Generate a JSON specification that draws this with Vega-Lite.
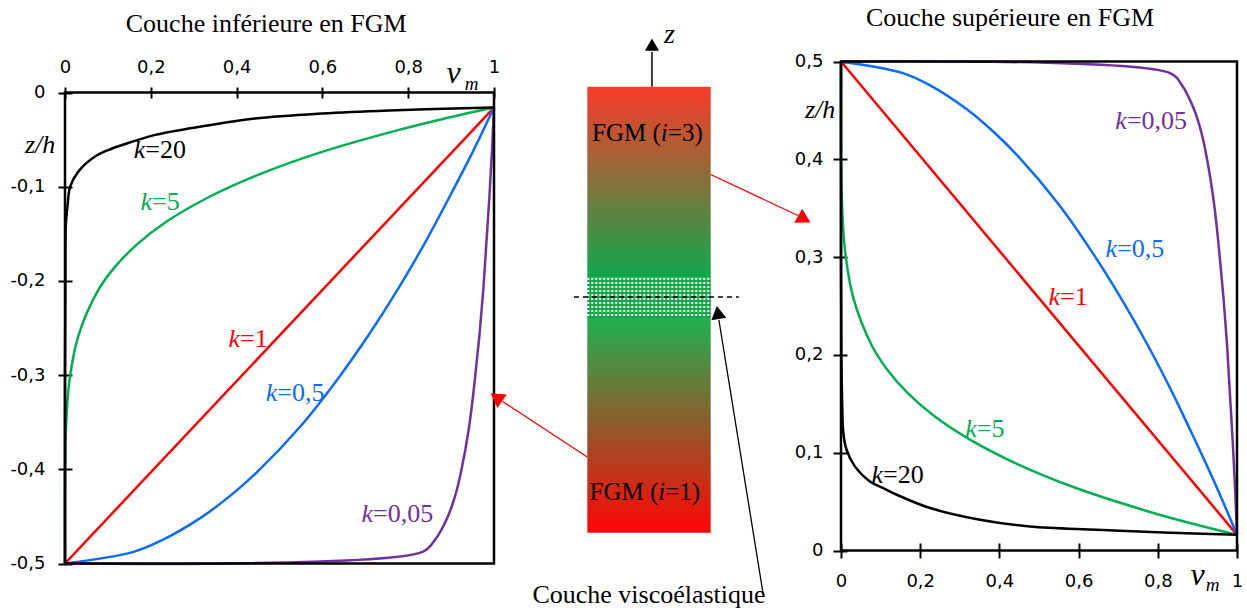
{
"$schema":"https://vega.github.io/schema/vega-lite/v6.json",
"width":1247,"height":612,"autosize":{"type":"none"},"padding":0,"background":"white",
"config":{"view":{"stroke":null},"axis":{"grid":false,"domain":false,"labelFont":"DejaVu Sans","labelFontSize":18,"labelColor":"black","tickColor":"black","tickWidth":2,"labelFlush":false,"labelOverlap":false,"labelBound":false},"text":{"font":"Liberation Serif","color":"black"}},
"datasets":{
"left":[
{"k":"1","vm":0,"z":-0.5},{"k":"1","vm":1,"z":-0.016},
{"k":"0,5","vm":0,"z":-0.5},{"k":"0,5","vm":0.158,"z":-0.4879},{"k":"0,5","vm":0.224,"z":-0.4758},{"k":"0,5","vm":0.316,"z":-0.4516},{"k":"0,5","vm":0.387,"z":-0.4274},{"k":"0,5","vm":0.447,"z":-0.4032},{"k":"0,5","vm":0.548,"z":-0.3548},{"k":"0,5","vm":0.632,"z":-0.3064},{"k":"0,5","vm":0.707,"z":-0.258},{"k":"0,5","vm":0.775,"z":-0.2096},{"k":"0,5","vm":0.837,"z":-0.1612},{"k":"0,5","vm":0.894,"z":-0.1128},{"k":"0,5","vm":0.949,"z":-0.0644},{"k":"0,5","vm":1,"z":-0.016},
{"k":"0,05","vm":0,"z":-0.5},{"k":"0,05","vm":0.832,"z":-0.4879},{"k":"0,05","vm":0.861,"z":-0.4758},{"k":"0,05","vm":0.891,"z":-0.4516},{"k":"0,05","vm":0.910,"z":-0.4274},{"k":"0,05","vm":0.923,"z":-0.4032},{"k":"0,05","vm":0.942,"z":-0.3548},{"k":"0,05","vm":0.955,"z":-0.3064},{"k":"0,05","vm":0.966,"z":-0.258},{"k":"0,05","vm":0.975,"z":-0.2096},{"k":"0,05","vm":0.982,"z":-0.1612},{"k":"0,05","vm":0.989,"z":-0.1128},{"k":"0,05","vm":0.995,"z":-0.0644},{"k":"0,05","vm":1,"z":-0.016},
{"k":"5","vm":0,"z":-0.5},{"k":"5","vm":0.0003,"z":-0.4032},{"k":"5","vm":0.0024,"z":-0.3548},{"k":"5","vm":0.0102,"z":-0.3064},{"k":"5","vm":0.0313,"z":-0.258},{"k":"5","vm":0.0778,"z":-0.2096},{"k":"5","vm":0.116,"z":-0.1854},{"k":"5","vm":0.168,"z":-0.1612},{"k":"5","vm":0.237,"z":-0.137},{"k":"5","vm":0.328,"z":-0.1128},{"k":"5","vm":0.444,"z":-0.0886},{"k":"5","vm":0.590,"z":-0.0644},{"k":"5","vm":0.774,"z":-0.0402},{"k":"5","vm":0.881,"z":-0.0281},{"k":"5","vm":1,"z":-0.016},
{"k":"20","vm":0,"z":-0.5},{"k":"20","vm":0,"z":-0.3},{"k":"20","vm":0.001,"z":-0.2},{"k":"20","vm":0.002,"z":-0.14},{"k":"20","vm":0.006,"z":-0.12},{"k":"20","vm":0.012,"z":-0.1},{"k":"20","vm":0.031,"z":-0.084},{"k":"20","vm":0.07,"z":-0.068},{"k":"20","vm":0.107,"z":-0.06},{"k":"20","vm":0.132,"z":-0.056},{"k":"20","vm":0.21,"z":-0.045},{"k":"20","vm":0.327,"z":-0.0354},{"k":"20","vm":0.443,"z":-0.0276},{"k":"20","vm":0.599,"z":-0.0223},{"k":"20","vm":0.754,"z":-0.0191},{"k":"20","vm":1,"z":-0.016}
],
"right":[
{"k":"1","vm":0,"z":0.5},{"k":"1","vm":1,"z":0.016},
{"k":"0,5","vm":0,"z":0.5},{"k":"0,5","vm":0.158,"z":0.4879},{"k":"0,5","vm":0.224,"z":0.4758},{"k":"0,5","vm":0.316,"z":0.4516},{"k":"0,5","vm":0.387,"z":0.4274},{"k":"0,5","vm":0.447,"z":0.4032},{"k":"0,5","vm":0.548,"z":0.3548},{"k":"0,5","vm":0.632,"z":0.3064},{"k":"0,5","vm":0.707,"z":0.258},{"k":"0,5","vm":0.775,"z":0.2096},{"k":"0,5","vm":0.837,"z":0.1612},{"k":"0,5","vm":0.894,"z":0.1128},{"k":"0,5","vm":0.949,"z":0.0644},{"k":"0,5","vm":1,"z":0.016},
{"k":"0,05","vm":0,"z":0.5},{"k":"0,05","vm":0.832,"z":0.4879},{"k":"0,05","vm":0.861,"z":0.4758},{"k":"0,05","vm":0.891,"z":0.4516},{"k":"0,05","vm":0.910,"z":0.4274},{"k":"0,05","vm":0.923,"z":0.4032},{"k":"0,05","vm":0.942,"z":0.3548},{"k":"0,05","vm":0.955,"z":0.3064},{"k":"0,05","vm":0.966,"z":0.258},{"k":"0,05","vm":0.975,"z":0.2096},{"k":"0,05","vm":0.982,"z":0.1612},{"k":"0,05","vm":0.989,"z":0.1128},{"k":"0,05","vm":0.995,"z":0.0644},{"k":"0,05","vm":1,"z":0.016},
{"k":"5","vm":0,"z":0.5},{"k":"5","vm":0.0003,"z":0.4032},{"k":"5","vm":0.0024,"z":0.3548},{"k":"5","vm":0.0102,"z":0.3064},{"k":"5","vm":0.0313,"z":0.258},{"k":"5","vm":0.0778,"z":0.2096},{"k":"5","vm":0.116,"z":0.1854},{"k":"5","vm":0.168,"z":0.1612},{"k":"5","vm":0.237,"z":0.137},{"k":"5","vm":0.328,"z":0.1128},{"k":"5","vm":0.444,"z":0.0886},{"k":"5","vm":0.590,"z":0.0644},{"k":"5","vm":0.774,"z":0.0402},{"k":"5","vm":0.881,"z":0.0281},{"k":"5","vm":1,"z":0.016},
{"k":"20","vm":0,"z":0.5},{"k":"20","vm":0,"z":0.3},{"k":"20","vm":0.001,"z":0.2},{"k":"20","vm":0.003,"z":0.15},{"k":"20","vm":0.006,"z":0.12},{"k":"20","vm":0.014,"z":0.103},{"k":"20","vm":0.035,"z":0.086},{"k":"20","vm":0.073,"z":0.0706},{"k":"20","vm":0.107,"z":0.0638},{"k":"20","vm":0.141,"z":0.057},{"k":"20","vm":0.225,"z":0.0434},{"k":"20","vm":0.351,"z":0.0314},{"k":"20","vm":0.477,"z":0.0245},{"k":"20","vm":0.646,"z":0.0212},{"k":"20","vm":0.814,"z":0.0184},{"k":"20","vm":1,"z":0.016}
],
"labelsL":[
{"k":"20","rest":"=20","x":0.187,"y":-0.0697},
{"k":"5","rest":"=5","x":0.203,"y":-0.125},
{"k":"1","rest":"=1","x":0.408,"y":-0.270},
{"k":"0,5","rest":"=0,5","x":0.495,"y":-0.328},
{"k":"0,05","rest":"=0,05","x":0.718,"y":-0.4557}
],
"labelsR":[
{"k":"0,05","rest":"=0,05","x":0.722,"y":0.431},
{"k":"0,5","rest":"=0,5","x":0.697,"y":0.300},
{"k":"1","rest":"=1","x":0.553,"y":0.251},
{"k":"5","rest":"=5","x":0.343,"y":0.116},
{"k":"20","rest":"=20","x":0.106,"y":0.069}
]
},
"resolve":{"scale":{"x":"independent","y":"independent"}},
"layer":[
{"layer":[
 {"data":{"name":"left"},"mark":{"type":"line","strokeWidth":2.5,"interpolate":"catmull-rom"},
  "encoding":{
   "x":{"field":"vm","type":"quantitative","title":null,"scale":{"domain":[0,1],"range":[65,494],"nice":false,"zero":false},
    "axis":{"orient":"top","offset":-98,"values":[0,0.2,0.4,0.6,0.8,1],"tickSize":11,"labelPadding":15,"labelBaseline":"alphabetic","labelFont":"DejaVu Sans","labelFontSize":18,"labelExpr":"replace(replace(format(datum.value,'~g'),'.',','),'\u2212','-')"}},
   "y":{"field":"z","type":"quantitative","title":null,"scale":{"domain":[-0.5,0],"range":[563.5,92.5],"nice":false,"zero":false},
    "axis":{"orient":"left","offset":-72,"values":[-0.5,-0.4,-0.3,-0.2,-0.1,0],"tickSize":14,"labelPadding":13,"labelFont":"DejaVu Sans","labelFontSize":18,"labelExpr":"replace(replace(format(datum.value,'~g'),'.',','),'\u2212','-')"}},
   "color":{"field":"k","type":"nominal","scale":{"domain":["20","5","1","0,5","0,05"],"range":["#000000","#00b050","#ff0000","#0a6bff","#7030a0"]},"legend":null},
   "order":{"field":"z","type":"quantitative"}}},
 {"data":{"values":[{}]},"mark":{"type":"rect","fillOpacity":0,"stroke":"black","strokeWidth":2.5},
  "encoding":{"x":{"datum":0,"type":"quantitative","title":null},"x2":{"datum":1},"y":{"datum":-0.5,"type":"quantitative","title":null},"y2":{"datum":0}}},
 {"data":{"name":"labelsL"},"mark":{"type":"text","fontSize":26,"fontStyle":"italic","align":"right","baseline":"alphabetic"},
  "encoding":{"x":{"field":"x","type":"quantitative","title":null},"y":{"field":"y","type":"quantitative","title":null},"text":{"value":"k"},
   "color":{"field":"k","type":"nominal","scale":{"domain":["20","5","1","0,5","0,05"],"range":["#000000","#00b050","#ff0000","#0a6bff","#7030a0"]},"legend":null}}},
 {"data":{"name":"labelsL"},"mark":{"type":"text","fontSize":26,"align":"left","baseline":"alphabetic"},
  "encoding":{"x":{"field":"x","type":"quantitative","title":null},"y":{"field":"y","type":"quantitative","title":null},"text":{"field":"rest"},
   "color":{"field":"k","type":"nominal","scale":{"domain":["20","5","1","0,5","0,05"],"range":["#000000","#00b050","#ff0000","#0a6bff","#7030a0"]},"legend":null}}},
 {"data":{"values":[{}]},"mark":{"type":"text","fontSize":26,"align":"center","baseline":"alphabetic"},
  "encoding":{"x":{"datum":0.469,"type":"quantitative","title":null},"y":{"datum":0.0645,"type":"quantitative","title":null},"text":{"value":"Couche inférieure en FGM"}}},
 {"data":{"values":[{}]},"mark":{"type":"text","fontSize":26,"fontStyle":"italic","align":"left","baseline":"alphabetic"},
  "encoding":{"x":{"datum":-0.0933,"type":"quantitative","title":null},"y":{"datum":-0.0642,"type":"quantitative","title":null},"text":{"value":"z/h"}}},
 {"data":{"values":[{}]},"mark":{"type":"text","fontSize":32,"fontStyle":"italic","align":"left","baseline":"alphabetic"},
  "encoding":{"x":{"datum":0.889,"type":"quantitative","title":null},"y":{"datum":0.0101,"type":"quantitative","title":null},"text":{"value":"v"}}},
 {"data":{"values":[{}]},"mark":{"type":"text","fontSize":19,"fontStyle":"italic","align":"left","baseline":"alphabetic"},
  "encoding":{"x":{"datum":0.932,"type":"quantitative","title":null},"y":{"datum":0.0027,"type":"quantitative","title":null},"text":{"value":"m"}}}
]},
{"layer":[
 {"data":{"values":[{}]},"mark":{"type":"rect","fill":{"gradient":"linear","x1":0,"y1":0,"x2":0,"y2":1,"stops":[{"offset":0,"color":"#fa3a2a"},{"offset":1,"color":"#10a84c"}]}},
  "encoding":{"x":{"datum":0,"type":"quantitative","scale":{"domain":[0,1],"range":[587.3,710.7],"nice":false,"zero":false},"axis":null},"x2":{"datum":1},
   "y":{"datum":0.0726,"type":"quantitative","scale":{"domain":[-0.5,0.5],"range":[532.7,86.7],"nice":false,"zero":false},"axis":null},"y2":{"datum":0.5}}},
 {"data":{"values":[{}]},"mark":{"type":"rect","fill":{"gradient":"linear","x1":0,"y1":0,"x2":0,"y2":1,"stops":[{"offset":0,"color":"#20b050"},{"offset":1,"color":"#ff0505"}]}},
  "encoding":{"x":{"datum":0,"type":"quantitative","axis":null},"x2":{"datum":1},"y":{"datum":-0.5,"type":"quantitative","axis":null},"y2":{"datum":-0.0186}}},
 {"data":{"values":[{}]},"mark":{"type":"rect","fill":"#14a84a"},
  "encoding":{"x":{"datum":0,"type":"quantitative","axis":null},"x2":{"datum":1},"y":{"datum":-0.0186,"type":"quantitative","axis":null},"y2":{"datum":0.0726}}},
 {"data":{"values":[{}]},"mark":{"type":"rule","stroke":"white","strokeWidth":40.7,"strokeDash":[2,2]},
  "encoding":{"x":{"datum":0,"type":"quantitative","axis":null},"x2":{"datum":1},"y":{"datum":0.027,"type":"quantitative","axis":null}}},
 {"data":{"values":[{}]},"mark":{"type":"rule","stroke":"#14a84a","strokeWidth":123.4,"strokeDash":[2,2]},
  "encoding":{"x":{"datum":0.5,"type":"quantitative","axis":null},"y":{"datum":-0.0186,"type":"quantitative","axis":null},"y2":{"datum":0.0726}}},
 {"data":{"values":[{}]},"mark":{"type":"rule","stroke":"black","strokeWidth":1.3,"strokeDash":[5,4]},
  "encoding":{"x":{"datum":-0.108,"type":"quantitative","axis":null},"x2":{"datum":1.228},"y":{"datum":0.0285,"type":"quantitative","axis":null}}},
 {"data":{"values":[{}]},"mark":{"type":"rule","stroke":"black","strokeWidth":1.5},
  "encoding":{"x":{"datum":0.524,"type":"quantitative","axis":null},"y":{"datum":0.5,"type":"quantitative","axis":null},"y2":{"datum":0.5778}}},
 {"data":{"values":[{}]},"mark":{"type":"point","shape":"triangle-up","filled":true,"size":200,"angle":0,"color":"black","opacity":1,"strokeWidth":0},
  "encoding":{"x":{"datum":0.524,"type":"quantitative","axis":null},"y":{"datum":0.5946,"type":"quantitative","axis":null}}},
 {"data":{"values":[{}]},"mark":{"type":"text","fontSize":28,"fontStyle":"italic","align":"left","baseline":"alphabetic"},
  "encoding":{"x":{"datum":0.622,"type":"quantitative","axis":null},"y":{"datum":0.5987,"type":"quantitative","axis":null},"text":{"value":"z"}}},
 {"data":{"values":[{}]},"mark":{"type":"text","fontSize":25,"align":"right","baseline":"alphabetic"},
  "encoding":{"x":{"datum":0.5956,"type":"quantitative","axis":null},"y":{"datum":0.3789,"type":"quantitative","axis":null},"text":{"value":"FGM ("}}},
 {"data":{"values":[{}]},"mark":{"type":"text","fontSize":25,"fontStyle":"italic","align":"left","baseline":"alphabetic"},
  "encoding":{"x":{"datum":0.5956,"type":"quantitative","axis":null},"y":{"datum":0.3789,"type":"quantitative","axis":null},"text":{"value":"i"}}},
 {"data":{"values":[{}]},"mark":{"type":"text","fontSize":25,"align":"left","baseline":"alphabetic","dx":7},
  "encoding":{"x":{"datum":0.5956,"type":"quantitative","axis":null},"y":{"datum":0.3789,"type":"quantitative","axis":null},"text":{"value":"=3)"}}},
 {"data":{"values":[{}]},"mark":{"type":"text","fontSize":25,"align":"right","baseline":"alphabetic"},
  "encoding":{"x":{"datum":0.575,"type":"quantitative","axis":null},"y":{"datum":-0.4267,"type":"quantitative","axis":null},"text":{"value":"FGM ("}}},
 {"data":{"values":[{}]},"mark":{"type":"text","fontSize":25,"fontStyle":"italic","align":"left","baseline":"alphabetic"},
  "encoding":{"x":{"datum":0.575,"type":"quantitative","axis":null},"y":{"datum":-0.4267,"type":"quantitative","axis":null},"text":{"value":"i"}}},
 {"data":{"values":[{}]},"mark":{"type":"text","fontSize":25,"align":"left","baseline":"alphabetic","dx":7},
  "encoding":{"x":{"datum":0.575,"type":"quantitative","axis":null},"y":{"datum":-0.4267,"type":"quantitative","axis":null},"text":{"value":"=1)"}}},
 {"data":{"values":[{}]},"mark":{"type":"text","fontSize":26,"align":"center","baseline":"alphabetic"},
  "encoding":{"x":{"datum":0.5,"type":"quantitative","axis":null},"y":{"datum":-0.6576,"type":"quantitative","axis":null},"text":{"value":"Couche viscoélastique"}}},
 {"data":{"values":[{}]},"mark":{"type":"rule","stroke":"#ff0000","strokeWidth":1.3},
  "encoding":{"x":{"datum":1.0,"type":"quantitative","axis":null},"x2":{"datum":1.7075},"y":{"datum":0.3031,"type":"quantitative","axis":null},"y2":{"datum":0.2112}}},
 {"data":{"values":[{}]},"mark":{"type":"point","shape":"triangle-up","filled":true,"size":260,"angle":119.4,"color":"#ff0000","opacity":1,"strokeWidth":0},
  "encoding":{"x":{"datum":1.7585,"type":"quantitative","axis":null},"y":{"datum":0.2031,"type":"quantitative","axis":null}}},
 {"data":{"values":[{}]},"mark":{"type":"rule","stroke":"#ff0000","strokeWidth":1.3},
  "encoding":{"x":{"datum":0,"type":"quantitative","axis":null},"x2":{"datum":-0.687},"y":{"datum":-0.3303,"type":"quantitative","axis":null},"y2":{"datum":-0.2058}}},
 {"data":{"values":[{}]},"mark":{"type":"point","shape":"triangle-up","filled":true,"size":260,"angle":304.2,"color":"#ff0000","opacity":1,"strokeWidth":0},
  "encoding":{"x":{"datum":-0.7374,"type":"quantitative","axis":null},"y":{"datum":-0.1964,"type":"quantitative","axis":null}}},
 {"data":{"values":[{}]},"mark":{"type":"rule","stroke":"black","strokeWidth":1.3},
  "encoding":{"x":{"datum":1.4238,"type":"quantitative","axis":null},"x2":{"datum":1.0665},"y":{"datum":-0.6352,"type":"quantitative","axis":null},"y2":{"datum":-0.0231}}},
 {"data":{"values":[{}]},"mark":{"type":"point","shape":"triangle-up","filled":true,"size":230,"angle":350.9,"color":"black","opacity":1,"strokeWidth":0},
  "encoding":{"x":{"datum":1.0575,"type":"quantitative","axis":null},"y":{"datum":-0.0063,"type":"quantitative","axis":null}}}
]},
{"layer":[
 {"data":{"name":"right"},"mark":{"type":"line","strokeWidth":2.5,"interpolate":"catmull-rom"},
  "encoding":{
   "x":{"field":"vm","type":"quantitative","title":null,"scale":{"domain":[0,1],"range":[841,1237],"nice":false,"zero":false},
    "axis":{"orient":"bottom","offset":-69,"values":[0,0.2,0.4,0.6,0.8,1],"tickSize":15,"labelPadding":28,"labelBaseline":"alphabetic","labelFont":"DejaVu Sans","labelFontSize":18,"labelExpr":"replace(replace(format(datum.value,'~g'),'.',','),'\u2212','-')"}},
   "y":{"field":"z","type":"quantitative","title":null,"scale":{"domain":[0,0.5],"range":[550.5,61.5],"nice":false,"zero":false},
    "axis":{"orient":"left","offset":-847,"values":[0,0.1,0.2,0.3,0.4,0.5],"tickSize":14,"labelPadding":10,"labelFont":"DejaVu Sans","labelFontSize":18,"labelExpr":"replace(replace(format(datum.value,'~g'),'.',','),'\u2212','-')"}},
   "color":{"field":"k","type":"nominal","scale":{"domain":["20","5","1","0,5","0,05"],"range":["#000000","#00b050","#ff0000","#0a6bff","#7030a0"]},"legend":null},
   "order":{"field":"z","type":"quantitative"}}},
 {"data":{"values":[{}]},"mark":{"type":"rect","fillOpacity":0,"stroke":"black","strokeWidth":2.5},
  "encoding":{"x":{"datum":0,"type":"quantitative","title":null},"x2":{"datum":1},"y":{"datum":0,"type":"quantitative","title":null},"y2":{"datum":0.5}}},
 {"data":{"name":"labelsR"},"mark":{"type":"text","fontSize":26,"fontStyle":"italic","align":"right","baseline":"alphabetic"},
  "encoding":{"x":{"field":"x","type":"quantitative","title":null},"y":{"field":"y","type":"quantitative","title":null},"text":{"value":"k"},
   "color":{"field":"k","type":"nominal","scale":{"domain":["20","5","1","0,5","0,05"],"range":["#000000","#00b050","#ff0000","#0a6bff","#7030a0"]},"legend":null}}},
 {"data":{"name":"labelsR"},"mark":{"type":"text","fontSize":26,"align":"left","baseline":"alphabetic"},
  "encoding":{"x":{"field":"x","type":"quantitative","title":null},"y":{"field":"y","type":"quantitative","title":null},"text":{"field":"rest"},
   "color":{"field":"k","type":"nominal","scale":{"domain":["20","5","1","0,5","0,05"],"range":["#000000","#00b050","#ff0000","#0a6bff","#7030a0"]},"legend":null}}},
 {"data":{"values":[{}]},"mark":{"type":"text","fontSize":26,"align":"center","baseline":"alphabetic"},
  "encoding":{"x":{"datum":0.4268,"type":"quantitative","title":null},"y":{"datum":0.5358,"type":"quantitative","title":null},"text":{"value":"Couche supérieure en FGM"}}},
 {"data":{"values":[{}]},"mark":{"type":"text","fontSize":26,"fontStyle":"italic","align":"left","baseline":"alphabetic"},
  "encoding":{"x":{"datum":-0.0909,"type":"quantitative","title":null},"y":{"datum":0.4422,"type":"quantitative","title":null},"text":{"value":"z/h"}}},
 {"data":{"values":[{}]},"mark":{"type":"text","fontSize":32,"fontStyle":"italic","align":"left","baseline":"alphabetic"},
  "encoding":{"x":{"datum":0.8826,"type":"quantitative","title":null},"y":{"datum":-0.0353,"type":"quantitative","title":null},"text":{"value":"v"}}},
 {"data":{"values":[{}]},"mark":{"type":"text","fontSize":19,"fontStyle":"italic","align":"left","baseline":"alphabetic"},
  "encoding":{"x":{"datum":0.921,"type":"quantitative","title":null},"y":{"datum":-0.0414,"type":"quantitative","title":null},"text":{"value":"m"}}}
]}
]
}
